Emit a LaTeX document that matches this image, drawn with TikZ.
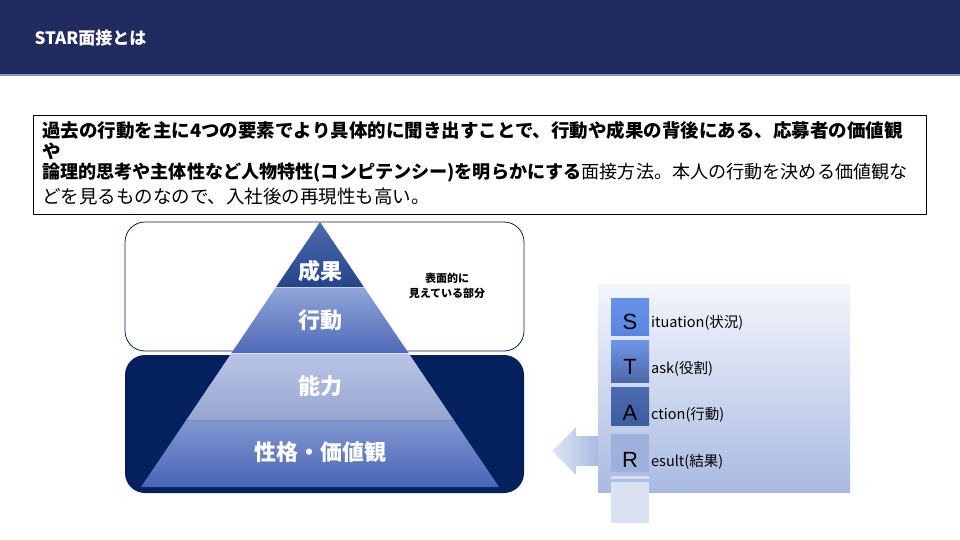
\documentclass[tikz,border=0pt]{standalone}
\usepackage{fontspec}
\setmainfont{Noto Sans CJK JP}
\newfontfamily\latinfont{Liberation Sans}
\definecolor{headblue}{RGB}{33,43,96}
\definecolor{deepnavy}{RGB}{4,32,94}
\definecolor{panelblue}{RGB}{169,186,226}
\tikzset{
  bandtext/.style={text=white, font=\bfseries\fontsize{22}{22}\selectfont},
  starletter/.style={font=\latinfont\fontsize{22}{22}\selectfont, text=black},
  starlabel/.style={anchor=west, font=\fontsize{14.5}{14.5}\selectfont, inner sep=0pt},
  boxline/.style={anchor=west, inner sep=0pt, font=\fontsize{18.5}{18.5}\selectfont}
}

\begin{document}
\begin{tikzpicture}[x=1pt, y=-1pt]
		%%%%% START %%%%%
		\useasboundingbox (0,0) rectangle (960,540);
		
		% header
		\fill[headblue] (0,0) rectangle (960,74);
		\draw[line width=1.5pt, color=headblue!50] (0,75) -- (960,75);
		\node[anchor=west, text=white, font=\bfseries\fontsize{17}{17}\selectfont] (title) at (31,38) {STAR面接とは};
		
		% explanation box
		\draw[line width=0.8pt] (33,115) rectangle (926,214);
		\node[boxline, font=\bfseries\fontsize{18.5}{18.5}\selectfont] (line1) at (42,130) {過去の行動を主に4つの要素でより具体的に聞き出すことで、行動や成果の背後にある、応募者の価値観};
		\node[boxline, font=\bfseries\fontsize{18.5}{18.5}\selectfont] (line2) at (42,151) {や};
		\node[boxline, font=\fontsize{18.1}{18.1}\selectfont] (line3) at (42,173) {\textbf{論理的思考や主体性など人物特性(コンピテンシー)を明らかにする}面接方法。本人の行動を決める価値観な};
		\node[boxline] (line4) at (42,197) {どを見るものなので、入社後の再現性も高い。};
		
		% visible / hidden areas
		\draw[line width=0.8pt, color=deepnavy, fill=white, rounded corners=20pt] (125,222) rectangle (524,351);
		\fill[deepnavy, rounded corners=20pt] (125,355) rectangle (524,493);
		\node[align=center, font=\bfseries\fontsize{11}{15}\selectfont] (surface) at (447,286) {表面的に\\見えている部分};
		
		% pyramid
		\shade[top color={rgb,255:red,78;green,106;blue,176}, bottom color={rgb,255:red,36;green,68;blue,138}]
			(320,222) -- (276.1,287) -- (363.9,287) -- cycle;
		\shade[top color={rgb,255:red,146;green,165;blue,216}, bottom color={rgb,255:red,78;green,106;blue,184}]
			(276.1,287) -- (231.5,353) -- (408.5,353) -- (363.9,287) -- cycle;
		\shade[top color={rgb,255:red,186;green,197;blue,229}, bottom color={rgb,255:red,150;green,166;blue,210}]
			(231.5,353) -- (186.3,420) -- (453.7,420) -- (408.5,353) -- cycle;
		\shade[top color={rgb,255:red,130;green,151;blue,210}, bottom color={rgb,255:red,72;green,100;blue,180}]
			(186.3,420) -- (141,487) -- (499,487) -- (453.7,420) -- cycle;
		\draw[white, opacity=0.5, line width=0.6pt] (276.1,287) -- (363.9,287);
		\draw[white, opacity=0.5, line width=0.6pt] (231.5,353) -- (408.5,353);
		\draw[gray, opacity=0.5, line width=0.6pt] (186.3,420) -- (453.7,420);
		
		\node[bandtext] (result) at (320,271) {成果};
		\node[bandtext] (action) at (320,320) {行動};
		\node[bandtext] (ability) at (320,386) {能力};
		\node[bandtext] (values) at (320,452) {性格・価値観};
		
		% STAR panel
		\shade[top color={rgb,255:red,243;green,245;blue,251}, middle color={rgb,255:red,205;green,214;blue,239}, bottom color=panelblue]
			(598,284) rectangle (850,492);
		\shade[left color={rgb,255:red,222;green,229;blue,245}, right color=panelblue]
			(598,436) -- (576,436) -- (576,427) -- (552,451) -- (576,475) -- (576,466) -- (598,466) -- cycle;
		
		\shade[top color={rgb,255:red,104;green,146;blue,232}, bottom color={rgb,255:red,88;green,134;blue,226}] (611,298) rectangle (649,335);
		\shade[top color={rgb,255:red,112;green,150;blue,232}, middle color={rgb,255:red,60;green,114;blue,216}, bottom color={rgb,255:red,76;green,104;blue,170}] (611,340) rectangle (649,382);
		\shade[top color={rgb,255:red,76;green,106;blue,176}, bottom color={rgb,255:red,60;green,92;blue,160}] (611,387) rectangle (649,425);
		\fill[color={rgb,255:red,196;green,206;blue,234}] (611,428) rectangle (649,432);
		\fill[color={rgb,255:red,158;green,177;blue,220}] (611,434) rectangle (649,472);
		\fill[color={rgb,255:red,214;green,222;blue,242}] (611,476) rectangle (649,479);
		\fill[color={rgb,255:red,218;green,225;blue,243}] (611,482) rectangle (649,523);
		
		\node[starletter] (s) at (630,322) {S};
		\node[starletter] (t) at (630,367) {T};
		\node[starletter] (a) at (630,413) {A};
		\node[starletter] (r) at (630,460) {R};
		\node[starlabel] (situation) at (651,323) {ituation(状況)};
		\node[starlabel] (task) at (651,369) {ask(役割)};
		\node[starlabel] (actionlabel) at (651,415) {ction(行動)};
		\node[starlabel] (resultlabel) at (651,462) {esult(結果)};
		
		%%%%% END %%%%%
\end{tikzpicture}
\end{document}
